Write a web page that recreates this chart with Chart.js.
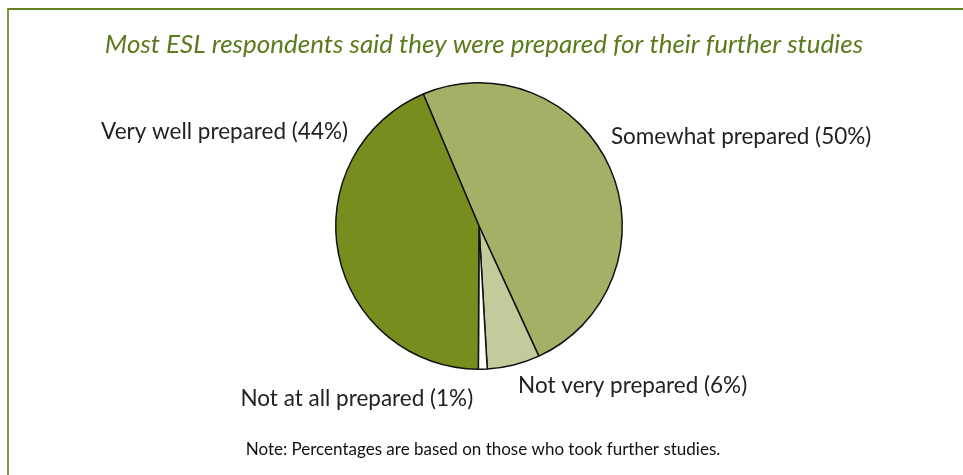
<!DOCTYPE html>
<html>
<head>
<meta charset="utf-8">
<script src="https://cdn.jsdelivr.net/npm/chart.js@4.4.1/dist/chart.umd.min.js"></script>
<style>
  html, body { margin: 0; padding: 0; background: #fff; }
  #wrap { position: relative; width: 963px; height: 475px; overflow: hidden; }
  #frame { position: absolute; left: 7px; top: 8px; right: -4px; bottom: -4px;
           border-left: 2px solid #7f9a3e; border-top: 2px solid #667f24; }
  canvas { position: absolute; left: 0; top: 0; }
</style>
</head>
<body>
<div id="wrap">
  <div id="frame"></div>
  <canvas id="c" width="963" height="475"></canvas>
</div>
<script>
// Survey responses (percent of respondents who took further studies)
const categories = ['Somewhat prepared', 'Not very prepared', 'Not at all prepared', 'Very well prepared'];
const percents = [50, 6, 1, 44];
const sliceColors = ['#a3b066', '#c3cb9c', '#ffffff', '#778e1f'];

const titleText = 'Most ESL respondents said they were prepared for their further studies';
const noteText = 'Note: Percentages are based on those who took further studies.';

// where each slice label sits, relative to the middle of the slice's outer edge
const labelShift = [[131, -31], [119, 21], [-126, 30], [-114, -122]];

const textPlugin = {
  id: 'pieText',
  afterDraw(chart) {
    const ctx = chart.ctx;
    const meta = chart.getDatasetMeta(0);
    ctx.save();
    ctx.textAlign = 'center';
    ctx.textBaseline = 'middle';

    ctx.fillStyle = '#5b7a1b';
    ctx.font = 'italic 26px Lato';
    ctx.fillText(titleText, 484, 45);

    ctx.fillStyle = '#222';
    ctx.font = '22.5px Lato';
    meta.data.forEach((arc, i) => {
      const p = arc.getProps(['x', 'y', 'startAngle', 'endAngle', 'outerRadius'], true);
      const mid = (p.startAngle + p.endAngle) / 2;
      const ex = p.x + Math.cos(mid) * p.outerRadius;
      const ey = p.y + Math.sin(mid) * p.outerRadius;
      const label = categories[i] + ' (' + percents[i] + '%)';
      ctx.fillText(label, ex + labelShift[i][0], ey + labelShift[i][1]);
    });

    ctx.fillStyle = '#111';
    ctx.font = '17px Lato';
    ctx.fillText(noteText, 483, 450);
    ctx.restore();
  }
};

new Chart(document.getElementById('c'), {
  type: 'pie',
  data: {
    labels: categories,
    datasets: [{
      data: percents,
      backgroundColor: sliceColors,
      borderColor: '#111',
      borderWidth: 1.5
    }]
  },
  options: {
    responsive: false,
    animation: false,
    rotation: -22.9,
    layout: { padding: { top: 82, bottom: 105, left: 300, right: 305 } },
    plugins: {
      legend: { display: false },
      title: { display: false },
      tooltip: { enabled: false }
    }
  },
  plugins: [textPlugin]
});
</script>
</body>
</html>
